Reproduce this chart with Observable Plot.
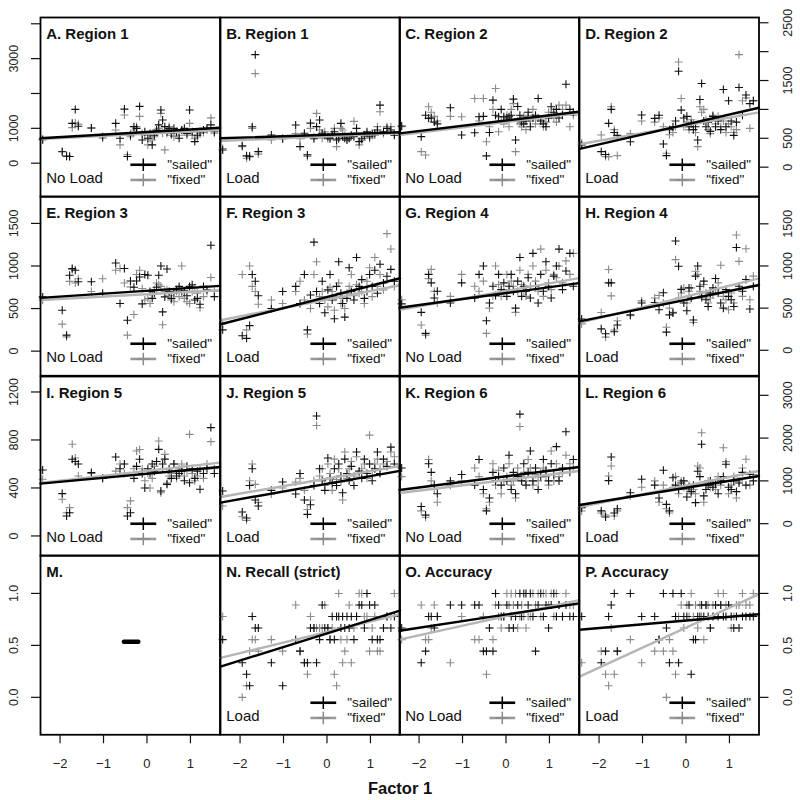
<!DOCTYPE html>
<html><head><meta charset="utf-8">
<script src="https://cdn.jsdelivr.net/npm/d3@7"></script>
<script src="https://cdn.jsdelivr.net/npm/@observablehq/plot@0.6"></script>
<style>
body{margin:0;background:#fff;}
#wrap{position:relative;width:800px;height:800px;background:#fff;font-family:"Liberation Sans",Arial,sans-serif;}
.pan{position:absolute;}
</style></head><body><div id="wrap"></div>
<script>
// participant-level predictor (shared by all panels)
const factor1 = [-2.40,-1.95,-1.85,-1.78,-1.72,-1.65,-1.58,-1.28,-1.02,-0.72,-0.62,-0.52,-0.45,-0.38,-0.30,-0.24,-0.17,-0.11,-0.05,0.02,0.07,0.12,0.17,0.22,0.27,0.32,0.36,0.41,0.46,0.51,0.56,0.62,0.68,0.74,0.80,0.86,0.92,0.98,1.04,1.10,1.16,1.22,1.30,1.38,1.47,1.55];

const sailedA = [680,330,200,190,1143,1543,1060,1010,760,1143,714,1552,190,800,1048,1000,1629,667,900,714,850,524,800,950,1100,1524,1238,1048,900,1000,850,1000,900,714,950,1000,850,1524,900,619,800,900,950,1000,1100,900];
const fixedA  = [667,336,210,190,1019,1162,1120,1010,714,952,524,1381,240,760,952,1050,1343,857,800,524,700,667,760,900,1000,1428,857,381,850,1050,800,762,900,800,952,900,800,1143,810,700,750,857,880,950,1300,857];
const sailedB = [380,500,210,200,1047,3114,333,810,700,1095,476,857,238,1148,700,1048,1238,857,800,760,700,800,900,667,700,1143,760,714,667,714,800,760,1000,620,700,800,900,760,850,850,952,1667,900,1000,952,800];
const fixedB  = [420,476,143,180,1000,2571,260,667,714,850,700,800,190,1000,760,1428,952,714,900,700,750,860,1000,476,760,1000,952,800,700,714,760,1200,857,524,650,760,850,714,800,800,1048,1476,850,1048,1048,850];
const sailedC = [712,528,900,845,850,780,750,1028,557,597,872,880,195,600,1160,900,872,1000,872,850,872,900,1178,471,1050,900,786,750,800,950,700,850,900,1190,800,750,700,850,1045,950,1000,850,900,1436,1000,950];
const fixedC  = [700,269,212,1045,950,880,800,880,872,1190,800,1190,441,700,1000,1362,614,800,750,900,700,1000,1100,269,800,750,700,880,650,900,800,1000,750,850,816,700,780,950,900,850,780,1074,1000,1074,700,900];
const sailedD = [384,269,220,759,1000,600,550,441,902,845,900,402,200,650,700,800,1660,988,850,880,700,750,650,700,471,1172,1448,800,700,780,620,880,700,800,650,1345,700,1150,800,550,780,1379,900,1250,1100,1150];
const fixedD  = [420,557,183,183,1045,650,200,580,800,780,850,700,240,560,600,700,1821,1190,700,780,650,820,750,600,355,1045,950,1000,820,650,580,900,750,880,700,800,600,750,700,600,650,1948,1150,1200,672,1150];
const sailedE = [637,481,188,891,970,950,815,815,680,1035,560,970,363,823,750,823,870,555,900,891,700,620,680,750,891,1000,461,637,965,700,620,680,720,760,700,710,650,760,780,600,620,550,760,720,1243,640];
const fixedE  = [598,317,168,819,960,800,850,700,850,950,970,800,188,755,430,900,950,735,600,620,560,680,720,800,780,760,310,700,720,650,600,580,700,640,1000,620,580,560,700,740,680,510,640,700,864,700];
const sailedF = [250,180,150,300,900,820,650,500,700,760,560,900,250,660,1280,700,560,820,450,720,900,600,380,760,1050,680,560,400,620,980,700,600,1100,760,840,620,700,900,760,950,680,1020,800,880,960,820];
const fixedF  = [320,900,250,1000,760,700,550,600,560,700,820,600,200,500,900,1050,640,700,600,520,750,700,480,640,800,560,620,500,680,760,900,650,780,680,700,560,820,980,640,1100,760,900,720,1380,1200,760];
const sailedG = [550,450,200,900,800,620,700,560,800,620,900,1000,350,560,760,650,900,720,800,640,760,900,700,500,820,1100,640,760,700,860,620,1150,760,560,900,700,1050,760,620,880,1000,1200,720,940,1150,760];
const fixedG  = [600,300,180,850,960,700,560,640,900,760,700,820,200,500,640,1000,780,640,700,900,720,820,760,450,700,950,780,700,640,900,760,1000,820,700,1200,640,950,800,720,900,860,1000,800,1060,900,1150];
const sailedH = [371,254,196,800,800,220,300,420,560,566,480,683,215,420,442,1297,996,723,560,469,740,620,360,880,1000,760,640,820,600,520,680,740,852,680,560,500,720,640,600,520,1219,760,700,840,489,760];
const fixedH  = [313,449,156,958,645,240,350,410,586,620,650,560,273,500,450,1075,620,680,740,560,700,740,330,938,900,700,620,780,680,560,620,660,720,800,1008,640,600,480,680,560,1368,1055,640,1204,600,880];
const sailedI = [550,353,166,194,639,620,600,528,480,658,560,600,166,194,480,580,639,520,400,560,520,600,540,620,722,375,600,640,430,560,480,600,500,520,540,460,580,444,560,480,540,389,520,560,903,520];
const fixedI  = [472,306,194,236,764,650,500,520,480,540,600,520,236,292,560,708,720,560,460,520,400,480,580,620,792,360,560,680,440,500,520,600,480,560,600,500,540,847,520,460,500,560,480,600,786,560];
const sailedJ = [375,200,150,420,560,300,250,380,450,350,520,300,180,260,420,1000,560,460,380,650,480,440,560,420,600,500,360,640,520,460,580,420,700,540,480,640,520,600,460,560,700,520,640,580,740,600];
const fixedJ  = [250,160,130,460,600,430,280,350,400,450,480,380,220,300,460,920,500,560,420,600,520,380,640,470,560,450,300,700,480,560,620,500,660,520,560,600,480,840,540,600,640,560,600,620,700,660];
const sailedK = [1300,400,200,1400,1200,900,700,1000,1150,900,1500,800,300,600,1200,1000,1100,900,1300,1000,1600,800,1200,700,1100,2560,1000,1400,900,1200,1700,1000,1300,800,1100,1500,1250,1000,1400,1150,1800,1000,1300,2150,1200,1500];
const fixedK  = [1100,300,150,1500,1000,800,500,900,1000,1300,1100,700,350,500,1400,900,1250,700,1000,1100,1400,900,1000,600,1300,2270,1100,1200,1000,1500,1300,900,1150,1000,1200,1300,1100,900,1700,1000,1400,1100,1200,1600,1400,1300];
const sailedL = [374,300,156,1006,1558,250,350,724,1037,900,600,1248,450,300,1075,900,800,950,1000,624,850,750,900,491,1226,1100,1855,650,800,900,1000,850,950,700,1000,1100,1388,850,800,1000,750,950,1200,900,1150,1000];
const fixedL  = [296,250,200,1114,1348,180,300,650,850,1000,500,900,350,250,850,1100,700,1000,850,800,900,700,800,700,1348,1300,2126,500,900,1000,850,900,800,1100,900,1776,1450,700,900,1100,600,1000,1300,1504,900,1150];
// N–P: number correct out of 9
const sailedN = [5,3,2,1,7,6,6,3,1,5,4,3,3,6,6,3,5,8,6,6,5,7,5,7,7,6,7,6,7,6,7,5,7,8,8,6,9,8,5,8,5,5,6,7,6,7];
const fixedN  = [7,0,1,4,5,5,4,5,4,8,4,3,2,7,6,6,6,6,8,6,5,6,2,1,9,5,3,4,5,8,3,6,7,9,9,7,7,4,6,7,4,4,6,7,7,9];
const sailedO = [6,3,4,7,7,6,7,8,8,8,8,4,4,6,4,9,8,7,7,8,6,7,6,7,8,9,7,9,9,8,9,7,4,8,9,7,8,6,8,9,7,8,7,8,7,7];
const fixedO  = [5,8,5,5,6,8,7,3,7,5,5,7,2,6,5,8,7,6,7,9,8,9,8,9,6,7,8,7,6,7,7,9,8,9,7,9,9,8,9,7,9,8,7,9,8,8];
const sailedP = [7,3,4,7,8,9,4,9,7,7,5,9,6,3,9,7,3,9,7,7,8,2,5,5,7,7,8,7,8,7,6,7,8,7,8,7,7,8,7,6,7,6,7,7,7,7];
const fixedP  = [3,4,2,1,6,2,4,5,3,4,5,4,0,5,4,2,7,8,6,8,7,9,7,8,6,8,7,5,8,8,6,8,8,9,8,9,8,8,6,7,8,8,9,8,8,9];

// fitted lines: value at left and right edge of x range
const fitsSailed = [[714,1017],[714,886],[586,959],[316,1028],[625,766],[316,856],[504,797],[343,774],[436,575],[278,542],[787,1325],[437,1114],null,[0.295,0.834],[0.641,0.904],[0.651,0.80]];
const fitsFixed  = [[694,951],[637,866],[557,936],[397,948],[601,715],[363,774],[480,856],[325,852],[442,611],[325,583],[717,1231],[390,1231],null,[0.379,0.80],[0.555,0.936],[0.199,0.994]];

const titles = ["A. Region 1","B. Region 1","C. Region 2","D. Region 2","E. Region 3","F. Region 3","G. Region 4","H. Region 4","I. Region 5","J. Region 5","K. Region 6","L. Region 6","M.","N. Recall (strict)","O. Accuracy","P. Accuracy"];
const loads = ["No Load","Load","No Load","Load","No Load","Load","No Load","Load","No Load","Load","No Load","Load","","Load","No Load","Load"];
const sailedSeries = [sailedA,sailedB,sailedC,sailedD,sailedE,sailedF,sailedG,sailedH,sailedI,sailedJ,sailedK,sailedL,null,sailedN,sailedO,sailedP];
const fixedSeries  = [fixedA,fixedB,fixedC,fixedD,fixedE,fixedF,fixedG,fixedH,fixedI,fixedJ,fixedK,fixedL,null,fixedN,fixedO,fixedP];
const outOf = [1,1,1,1,1,1,1,1,1,1,1,1,1,9,9,9];
const legendLabels = ['"sailed"','"fixed"'];

// panel M: short bar
const mBarX = [-0.53, -0.20];
const mBarY = [0.535, 0.535];

const xDomain = [-2.45, 1.68];
const xTicks = [-2, -1, 0, 1];
const yDomains = [[[-963,4180],[-512,2591]],[[-289,1816],[-302,1824]],[[-165,1329],[-750,3440]],[[-0.36,1.365],[-0.36,1.365]]];
const yTicksLeft  = [[0,1000,2000,3000,4000],[0,500,1000,1500],[0,400,800,1200],[0,0.5,1]];
const yLabelsLeft = [[0,1000,3000],[0,500,1000,1500],[0,400,800,1200],[0,0.5,1]];
const yTicksRight = [[0,500,1000,1500,2000,2500],[0,500,1000,1500],[0,1000,2000,3000],[0,0.5,1]];
const yLabelsRight= [[0,500,1500,2500],[0,500,1000,1500],[0,1000,2000,3000],[0,0.5,1]];

const colL = [40, 219.5, 399, 578.5], rowT = [17, 196.25, 375.5, 554.75];
const W = 179.5, H = 179.25;
const FONT = '"Liberation Sans", Arial, Helvetica, sans-serif';
const GRAYPT = "#8a8a8a", GRAYLINE = "#b5b5b5", GRAYLEG = "#9a9a9a";

const plusSym = {draw(ctx, size){const r=Math.sqrt(size/Math.PI); ctx.moveTo(-r,0); ctx.lineTo(r,0); ctx.moveTo(0,-r); ctx.lineTo(0,r);}};
const hSym = {draw(ctx, size){const r=Math.sqrt(size/Math.PI); ctx.moveTo(-r,0); ctx.lineTo(r,0);}};

const wrap = document.getElementById("wrap");
const fmtY = (row) => (v) => row === 3 ? v.toFixed(1) : String(v);
const fmtX = (v) => v < 0 ? "\u2212" + Math.abs(v) : String(v);

for (let i = 0; i < 16; i++) {
  const row = Math.floor(i / 4), col = i % 4;
  const ml = col === 0 ? 40 : 0, mr = col === 3 ? 42 : 0, mb = row === 3 ? 66 : 0;
  const yDom = yDomains[row][col < 2 ? 0 : 1];
  const marks = [];
  const s = sailedSeries[i], f = fixedSeries[i];
  if (s) {
    const data = factor1.map((x, j) => ({x, s: s[j] / outOf[i], f: f[j] / outOf[i]}));
    marks.push(Plot.dot(data, {x: "x", y: "f", symbol: plusSym, r: 4, stroke: GRAYPT, strokeWidth: 1.1, fill: "none"}));
    marks.push(Plot.dot(data, {x: "x", y: "s", symbol: plusSym, r: 4, stroke: "#111", strokeWidth: 1.1, fill: "none"}));
    marks.push(Plot.line(xDomain.map((x, j) => ({x, y: fitsFixed[i][j]})), {x: "x", y: "y", stroke: GRAYLINE, strokeWidth: 2.4}));
    marks.push(Plot.line(xDomain.map((x, j) => ({x, y: fitsSailed[i][j]})), {x: "x", y: "y", stroke: "#000", strokeWidth: 2.4}));
    // legend
    const legCols = ["#000", GRAYLEG];
    const legPts = ["#000", GRAYPT];
    legendLabels.forEach((lab, k) => {
      const dy = k === 0 ? -32 : -16.8;
      marks.push(Plot.dot([lab], {frameAnchor: "bottom-left", dx: 102.8, dy, symbol: hSym, r: 12.9, stroke: legCols[k], strokeWidth: 2.6, fill: "none"}));
      marks.push(Plot.dot([lab], {frameAnchor: "bottom-left", dx: 102.8, dy, symbol: plusSym, r: 6.3, stroke: legPts[k], strokeWidth: 1.5, fill: "none"}));
      marks.push(Plot.text([lab], {frameAnchor: "bottom-left", dx: 126.7, dy, text: d => d, textAnchor: "start", lineAnchor: "middle", fontSize: 13.5, fill: "#111"}));
    });
    marks.push(Plot.text([loads[i]], {frameAnchor: "bottom-left", dx: 5.7, dy: -13.7, text: d => d, textAnchor: "start", lineAnchor: "bottom", fontSize: 15, fill: "#111"}));
  } else {
    marks.push(Plot.line(mBarX.map((x, j) => ({x, y: mBarY[j]})), {x: "x", y: "y", stroke: "#000", strokeWidth: 4.5}));
  }
  marks.push(Plot.text([titles[i]], {frameAnchor: "top-left", dx: 5.7, dy: 21.3, text: d => d, textAnchor: "start", lineAnchor: "bottom", fontSize: 15, fontWeight: "bold", fill: "#111"}));
  marks.push(Plot.frame({stroke: "#000", strokeWidth: 1.8}));
  if (col === 0) {
    marks.push(Plot.axisY({anchor: "left", ticks: yTicksLeft[row], tickSize: 9, tickFormat: () => "", label: null, strokeWidth: 1.2}));
    marks.push(Plot.text(yLabelsLeft[row], {y: d => d, text: fmtY(row), frameAnchor: "left", dx: -27, rotate: -90, textAnchor: "middle", lineAnchor: "middle", fontSize: 12.5, fill: "#222"}));
  }
  if (col === 3) {
    marks.push(Plot.axisY({anchor: "right", ticks: yTicksRight[row], tickSize: 9, tickFormat: () => "", label: null, strokeWidth: 1.2}));
    marks.push(Plot.text(yLabelsRight[row], {y: d => d, text: fmtY(row), frameAnchor: "right", dx: 29, rotate: -90, textAnchor: "middle", lineAnchor: "middle", fontSize: 12.5, fill: "#222"}));
  }
  if (row === 3) {
    marks.push(Plot.axisX({anchor: "bottom", ticks: xTicks, tickSize: 9, tickFormat: () => "", label: null, strokeWidth: 1.2}));
    marks.push(Plot.text(xTicks, {x: d => d, text: fmtX, frameAnchor: "bottom", dy: 29, lineAnchor: "middle", fontSize: 13, fill: "#222"}));
    if (col === 1) {
      marks.push(Plot.text(["Factor 1"], {frameAnchor: "bottom-right", dy: 59, text: d => d, textAnchor: "middle", lineAnchor: "bottom", fontSize: 16.5, fontWeight: "bold", fill: "#111"}));
    }
  }
  const chart = Plot.plot({
    width: W + ml + mr, height: H + mb,
    marginTop: 0, marginRight: mr, marginBottom: mb, marginLeft: ml,
    x: {domain: xDomain, axis: null},
    y: {domain: yDom, axis: null},
    style: {fontFamily: FONT, fontSize: "12px", overflow: "visible", background: "transparent", color: "#111"},
    marks
  });
  const div = document.createElement("div");
  div.className = "pan";
  div.style.left = (colL[col] - ml) + "px";
  div.style.top = rowT[row] + "px";
  div.appendChild(chart);
  wrap.appendChild(div);
}
</script></body></html>
